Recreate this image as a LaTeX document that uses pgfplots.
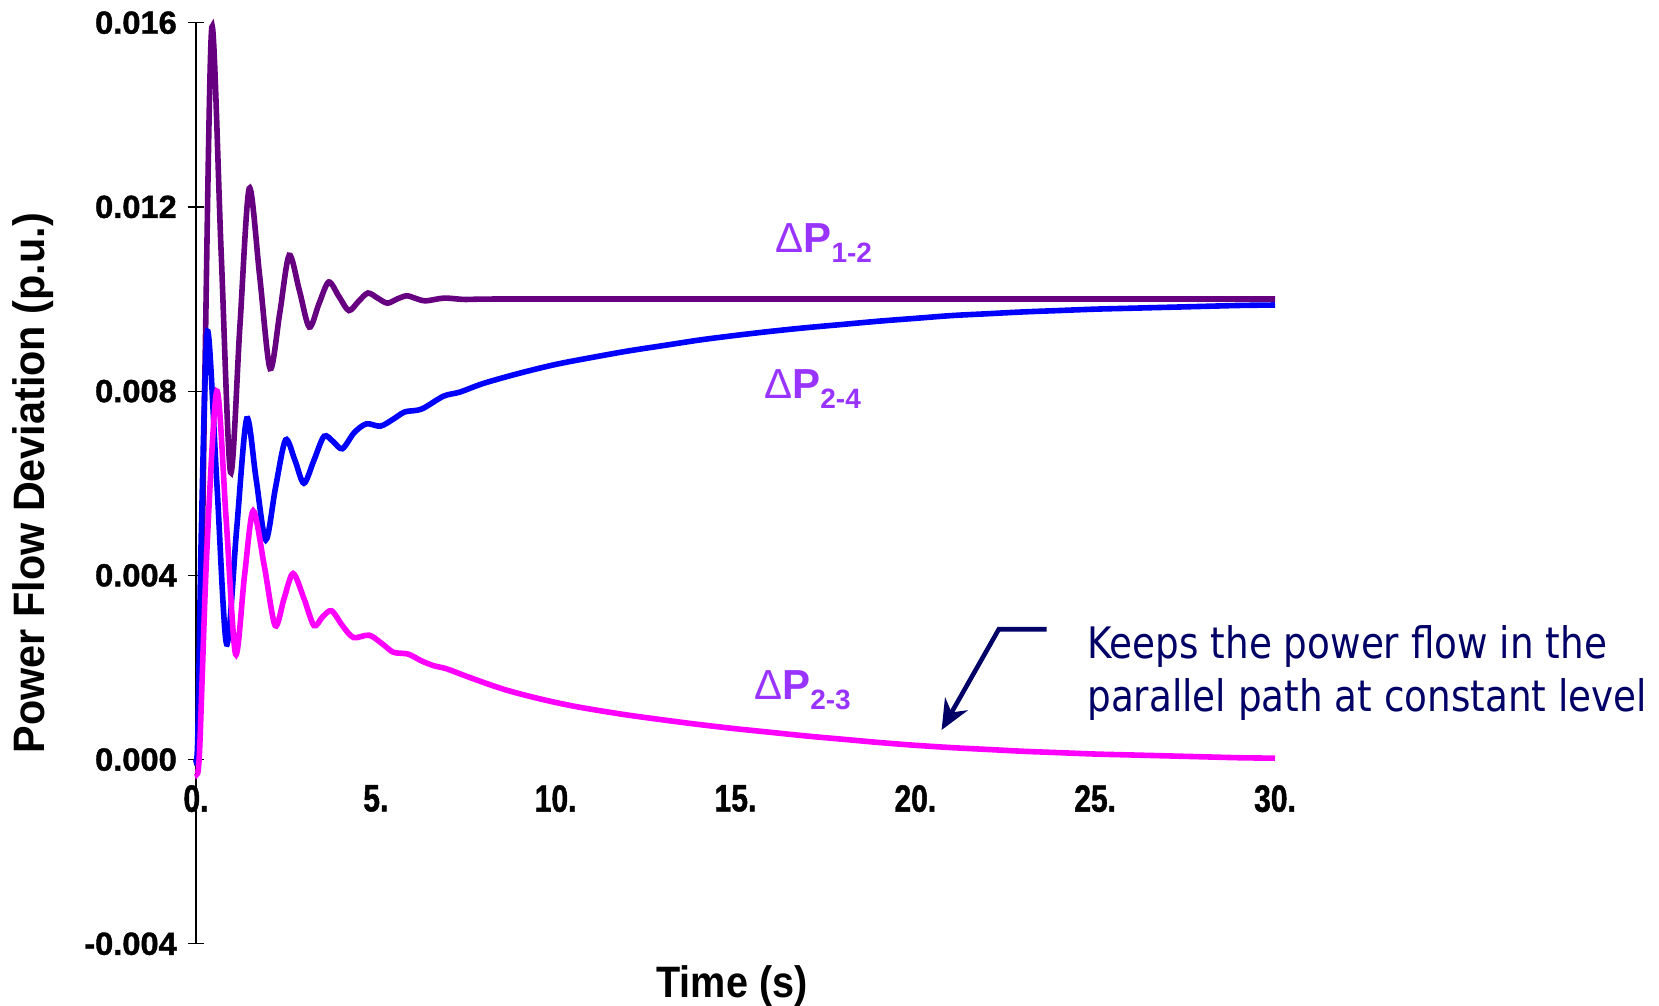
\documentclass[border=0pt]{standalone}
\usepackage{fontspec}
\setmainfont{Liberation Sans}
\newfontfamily\yfont[FakeStretch=1.02, BoldFeatures={FakeBold=1.2}]{Liberation Sans}
\newfontfamily\xfont[FakeStretch=0.79, BoldFeatures={FakeBold=1.2}]{Liberation Sans}
\newfontfamily\labfont[FakeStretch=0.9]{Liberation Sans}
\newfontfamily\ylabfont[FakeStretch=0.94]{Liberation Sans}
\newfontfamily\notefont[FakeStretch=0.86]{DejaVu Sans}
\usepackage{graphicx}
\usepackage{pgfplots}
\pgfplotsset{compat=1.18}
\usetikzlibrary{arrows.meta}
\definecolor{cpurple}{RGB}{102,0,128}
\definecolor{cblue}{RGB}{0,0,255}
\definecolor{cmag}{RGB}{255,0,255}
\definecolor{clabel}{RGB}{153,51,255}
\definecolor{cnavy}{RGB}{0,0,102}
\newcommand{\dP}[1]{{\fontsize{21}{21}\selectfont\mdseries Δ\bfseries P}\raisebox{-5pt}{\fontsize{14}{14}\selectfont\bfseries #1}}
\begin{document}
\begin{tikzpicture}
\useasboundingbox (0,0) rectangle (829.5pt,503pt);
\begin{axis}[
 at={(98pt,31.1pt)}, anchor=south west,
 scale only axis, width=539.5pt, height=460.55pt,
 xmin=0, xmax=30, ymin=-0.004, ymax=0.016,
 axis x line*=middle, axis y line*=left,
 hide obscured x ticks=false,
 x axis line style={draw=none},
 y axis line style={line width=0.6pt, black},
 xtick={0,5,...,30}, xticklabels={0.,5.,10.,15.,20.,25.,30.},
 ytick={-0.004,0,0.004,0.008,0.012,0.016},
 yticklabels={-0.004,0.000,0.004,0.008,0.012,0.016},
 scaled y ticks=false,
 xtick style={draw=none},
 ytick style={line width=0.6pt, black},
 tick align=center, major tick length=7.8pt,
 xticklabel style={font=\xfont\bfseries\fontsize{19}{19}\selectfont, anchor=north, inner sep=0pt, yshift=-8.7pt},
 yticklabel style={font=\yfont\bfseries\fontsize{16}{16}\selectfont, anchor=east, inner sep=0pt, xshift=-5.5pt},
 xlabel={Time (s)}, ylabel={Power Flow Deviation (p.u.)},
 every axis x label/.style={at={(rel axis cs:0.4968,0)}, anchor=base, yshift=-27.1pt, font=\labfont\bfseries\fontsize{22}{22}\selectfont},
 every axis y label/.style={at={(rel axis cs:-0.1511,0.5)}, rotate=90, anchor=center, font=\ylabfont\bfseries\fontsize{22}{22}\selectfont},
 clip=false,
 every axis plot/.append style={line width=2.8pt, smooth, tension=0.5, no markers},
]
% Delta P 1-2
\addplot[cpurple] coordinates {
(0,0) (0.05,0.0) (0.12,0.0015) (0.25,0.0085) (0.44,0.0159) (0.7,0.011) (0.96,0.00624)
(1.22,0.0094) (1.48,0.0124) (1.77,0.0105) (2.06,0.00849) (2.33,0.0097) (2.59,0.01095)
(2.87,0.0102) (3.15,0.00939) (3.42,0.0099) (3.69,0.01037) (3.97,0.01006) (4.25,0.00975)
(4.52,0.00995) (4.78,0.01013) (5.05,0.01002) (5.32,0.00991) (5.59,0.01) (5.86,0.01007)
(6.12,0.01001) (6.39,0.00996) (6.9,0.01002) (7.5,0.00999) (8.5,0.01) (15,0.01) (30,0.01)
};
% Delta P 2-4
\addplot[cblue] coordinates {
(0,0) (0.05,0.0005) (0.15,0.005) (0.32,0.0093) (0.58,0.006) (0.85,0.00251) (1.13,0.005)
(1.41,0.0074) (1.67,0.0061) (1.94,0.00477) (2.21,0.0059) (2.49,0.00694) (2.75,0.0065)
(3.0,0.0060) (3.28,0.0065) (3.56,0.00702) (3.82,0.0069) (4.07,0.00675) (4.4,0.0071)
(4.74,0.00729) (5.13,0.00724) (5.5,0.0074) (5.81,0.00755) (6.27,0.00761) (6.88,0.00789)
(7.34,0.00798) (8,0.00817) (9,0.00839) (10,0.00858) (11,0.00873) (12,0.00887) (13,0.00899)
(14,0.00911) (15,0.00921) (16,0.0093) (17,0.00938) (18,0.00945) (19,0.00952) (20,0.00958)
(21,0.00964) (22,0.00968) (23,0.00972) (24,0.00975) (25,0.00978) (26,0.0098) (27,0.00982)
(28,0.00984) (29,0.00986) (30,0.00987)
};
% Delta P 2-3
\addplot[cmag] coordinates {
(0.02,-0.0003) (0.1,0.0002) (0.3,0.0045) (0.58,0.0080) (0.84,0.0052) (1.1,0.00229)
(1.35,0.004) (1.59,0.0054) (1.9,0.0042) (2.2,0.00291) (2.45,0.0035) (2.7,0.00404)
(3.0,0.0035) (3.28,0.00291) (3.52,0.0031) (3.77,0.00323) (4.08,0.0029) (4.38,0.00265)
(4.82,0.0027) (5.2,0.0025) (5.49,0.00233) (5.9,0.00229) (6.25,0.00215) (6.6,0.00204)
(6.97,0.00197) (7.62,0.00178) (8.54,0.00153) (9.5,0.00133) (10.5,0.00116) (11.8,0.00099)
(13,0.00086) (14,0.00076) (15,0.00067) (16,0.00059) (17,0.00051) (18,0.00044)
(19,0.00037) (20,0.00031) (21,0.00026) (22,0.00022) (23,0.00018) (24,0.00015)
(25,0.00012) (26,0.0001) (27,0.00008) (28,0.00006) (29,0.00004) (30,0.00003)
};
\node[anchor=base west, inner sep=0pt, text=clabel] at (axis cs:16.10,0.01102) {\dP{1-2}};
\node[anchor=base west, inner sep=0pt, text=clabel] at (axis cs:15.79,0.00783) {\dP{2-4}};
\node[anchor=base west, inner sep=0pt, text=clabel] at (axis cs:15.51,0.001294) {\dP{2-3}};
\node[anchor=base west, inner sep=0pt, text=cnavy, font=\notefont\fontsize{21.7}{21.7}\selectfont] at (axis cs:24.77,0.00220) {Keeps the power flow in the};
\node[anchor=base west, inner sep=0pt, text=cnavy, font=\notefont\fontsize{21.7}{21.7}\selectfont] at (axis cs:24.77,0.00104) {parallel path at constant level};
\draw[cnavy, line width=2.3pt, -{Stealth[length=15pt,width=13pt]}] (axis cs:23.65,0.002829) -- (axis cs:22.32,0.002829) -- (axis cs:20.73,0.000642);
\end{axis}
\end{tikzpicture}
\end{document}
